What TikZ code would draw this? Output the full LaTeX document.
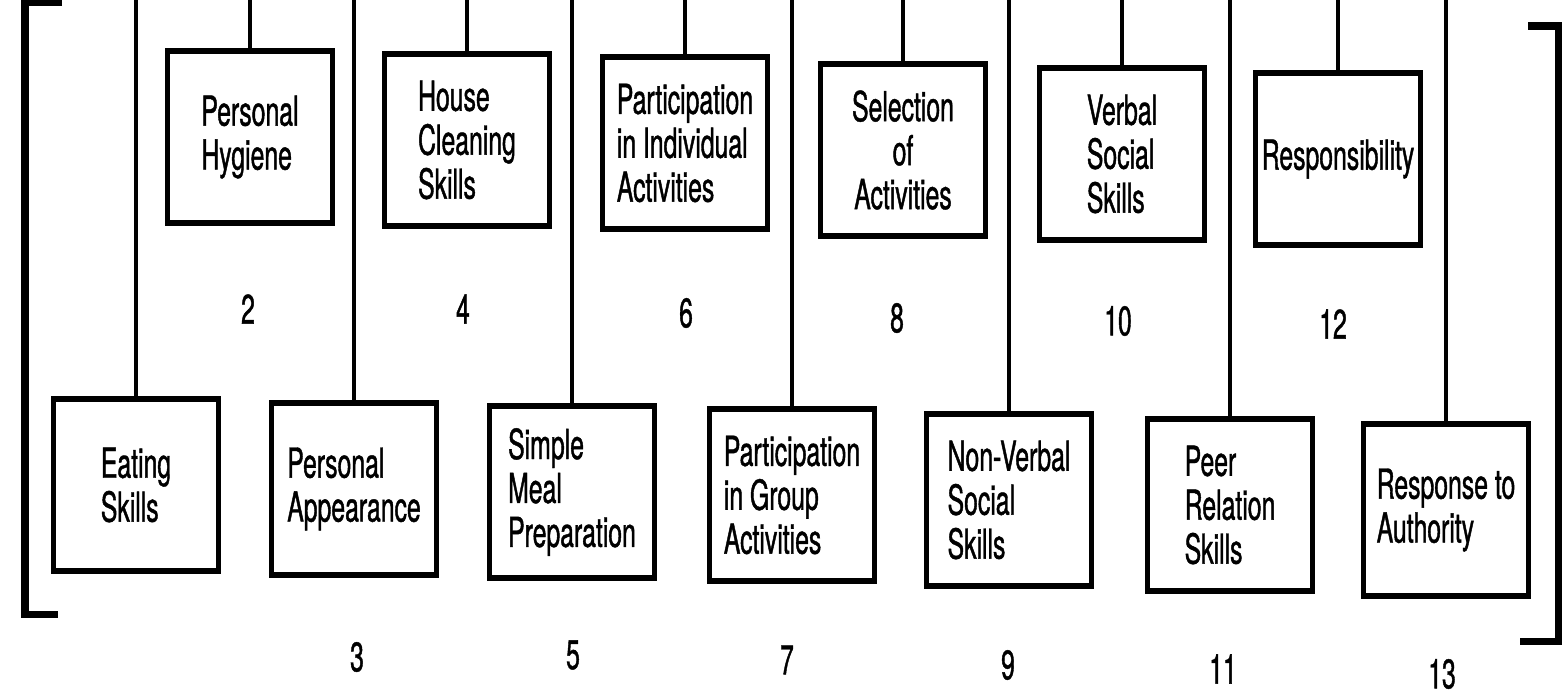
\documentclass[tikz,border=0pt]{standalone}
\usepackage{fontspec}
\setmainfont{TeX Gyre Heros}[FakeStretch=0.6,FakeBold=1]

\tikzset{
  skill/.style={draw, line width=3.2pt, minimum width=3.3cm, minimum height=3.44cm,
    inner sep=0pt, align=left, font=\fontsize{23.5}{25}\selectfont},
  num/.style={font=\fontsize{23.5}{25}\selectfont},
  stem/.style={line width=1.8pt},
  brace/.style={line width=4pt}
}

\begin{document}
\begin{tikzpicture}[x=0.02cm,y=-0.02cm]
        \useasboundingbox (0,0) rectangle (1567,698);
        \coordinate (top) at (0,0);

        \begin{scope}[every node/.style={skill}]
          \node (eating)     at (136,485)  {Eating\\Skills};
          \node (hygiene)    at (250,137)  {Personal\\Hygiene};
          \node (appearance) at (354,489)  {Personal\\Appearance};
          \node (cleaning)   at (467,140)  {House\\Cleaning\\Skills};
          \node (meal)       at (572,492)  {Simple\\Meal\\Preparation};
          \node (indiv)      at (685,143)  {Participation\\in Individual\\Activities};
          \node (group)      at (792,495)  {Participation\\in Group\\Activities};
          \node[align=center] (selection) at (903,150) {Selection\\of\\Activities};
          \node (nonverbal)  at (1009,500) {Non-Verbal\\Social\\Skills};
          \node (verbal)     at (1122,154) {Verbal\\Social\\Skills};
          \node (peer)       at (1230,505) {Peer\\Relation\\Skills};
          \node (respons)    at (1338,159) {Responsibility};
          \node (authority)  at (1446,510) {Response to\\Authority};
        \end{scope}

        \begin{scope}[every node/.style={num}]
          \node (n2)  at (248,309)  {2};
          \node (n3)  at (357,657)  {3};
          \node (n4)  at (463,309)  {4};
          \node (n5)  at (573,655)  {5};
          \node (n6)  at (686,313)  {6};
          \node (n7)  at (787,660)  {7};
          \node (n8)  at (897,318)  {8};
          \node (n9)  at (1008,665) {9};
          \node (n10) at (1118,321) {10};
          \node (n11) at (1223,669) {11};
          \node (n12) at (1333,324) {12};
          \node (n13) at (1442,674) {13};
        \end{scope}

        \begin{scope}[every edge/.style={draw,stem}]
          \path (eating)     edge (eating.north |- top);
          \path (hygiene)    edge (hygiene.north |- top);
          \path (appearance) edge (appearance.north |- top);
          \path (cleaning)   edge (cleaning.north |- top);
          \path (meal)       edge (meal.north |- top);
          \path (indiv)      edge (indiv.north |- top);
          \path (group)      edge (group.north |- top);
          \path (selection)  edge (selection.north |- top);
          \path (nonverbal)  edge (nonverbal.north |- top);
          \path (verbal)     edge (verbal.north |- top);
          \path (peer)       edge (peer.north |- top);
          \path (respons)    edge (respons.north |- top);
          \path (authority)  edge (authority.north |- top);
        \end{scope}

        \draw[brace] (62,2) -- (25,2) -- (25,614) -- (58,614);
        \draw[brace] (1528,26) -- (1558,26) -- (1558,641) -- (1520,641);

      \end{tikzpicture}
\end{document}
